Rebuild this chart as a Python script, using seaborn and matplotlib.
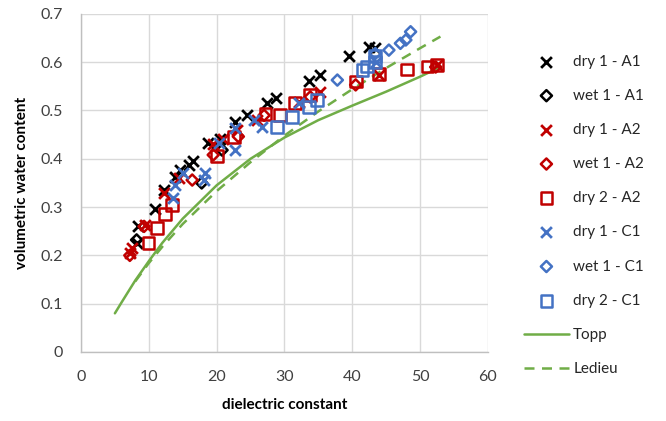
import matplotlib
matplotlib.use("Agg")
import matplotlib.pyplot as plt
import seaborn as sns
import pandas as pd

# dielectric constant (x) / volumetric water content (y)
dry1_a1_x = [8.2, 8.4, 10.9, 12.2, 13.9, 14.6, 15.9, 16.5, 18.8, 20.5, 22.7, 24.5, 27.4, 28.7, 33.6, 35.3, 39.5, 42.5, 43.4]
dry1_a1_y = [0.225, 0.26, 0.295, 0.335, 0.363, 0.377, 0.387, 0.395, 0.432, 0.44, 0.477, 0.49, 0.515, 0.525, 0.562, 0.573, 0.612, 0.632, 0.63]

wet1_a1_x = [8.2, 17.8, 20.8]
wet1_a1_y = [0.232, 0.35, 0.418]

dry1_a2_x = [7.3, 7.5, 9.5, 12.2, 14.5, 19.5, 21.0, 23.0, 26.0, 32.1, 35.3, 43.9, 52.5]
dry1_a2_y = [0.205, 0.215, 0.263, 0.33, 0.36, 0.43, 0.44, 0.46, 0.48, 0.518, 0.539, 0.573, 0.594]

wet1_a2_x = [7.2, 9.3, 16.4, 19.5, 23.2, 27.0, 33.8, 40.5, 52.3]
wet1_a2_y = [0.2, 0.26, 0.356, 0.408, 0.446, 0.49, 0.528, 0.553, 0.59]

dry2_a2_x = [9.95, 11.2, 12.4, 13.4, 20.0, 22.6, 27.2, 29.4, 31.6, 33.8, 40.5, 43.9, 48.1, 51.1, 52.5]
dry2_a2_y = [0.225, 0.257, 0.285, 0.304, 0.405, 0.445, 0.492, 0.49, 0.515, 0.532, 0.56, 0.575, 0.585, 0.591, 0.594]

dry1_c1_x = [13.6, 13.9, 15.0, 18.1, 18.3, 20.3, 22.7, 22.7, 25.5, 26.7, 32.1, 43.5]
dry1_c1_y = [0.318, 0.346, 0.37, 0.356, 0.37, 0.432, 0.418, 0.463, 0.48, 0.466, 0.515, 0.6]

wet1_c1_x = [37.8, 43.4, 45.4, 47.1, 47.9, 48.6]
wet1_c1_y = [0.563, 0.618, 0.625, 0.639, 0.646, 0.663]

dry2_c1_x = [28.9, 31.1, 33.6, 34.8, 41.5, 42.2, 43.4, 43.4]
dry2_c1_y = [0.466, 0.487, 0.508, 0.522, 0.584, 0.591, 0.601, 0.612]

topp_x = [5, 6, 8, 10, 12, 15, 20, 25, 30, 35, 40, 45, 50, 53]
topp_y = [0.080, 0.103, 0.148, 0.188, 0.226, 0.276, 0.345, 0.400, 0.444, 0.480, 0.510, 0.539, 0.570, 0.590]

ledieu_x = [8, 10, 12, 15, 20, 25, 30, 35, 40, 45, 50, 53]
ledieu_y = [0.146, 0.184, 0.218, 0.265, 0.333, 0.393, 0.448, 0.498, 0.544, 0.588, 0.629, 0.653]

BLACK = "#000000"
RED = "#c00000"
BLUE = "#4472c4"
GREEN = "#70ad47"

sns.set_theme(style="white")
plt.rcParams["font.family"] = ["Lato", "DejaVu Sans"]

fig = plt.figure(figsize=(6.66, 4.21), dpi=100)
ax = fig.add_axes([0.1216, 0.164, 0.611, 0.803])

series = [
    ("dry 1 - A1", dry1_a1_x, dry1_a1_y, "x", BLACK, 60),
    ("wet 1 - A1", wet1_a1_x, wet1_a1_y, "D", BLACK, 32),
    ("dry 1 - A2", dry1_a2_x, dry1_a2_y, "x", RED, 60),
    ("wet 1 - A2", wet1_a2_x, wet1_a2_y, "D", RED, 32),
    ("dry 2 - A2", dry2_a2_x, dry2_a2_y, "s", RED, 72),
    ("dry 1 - C1", dry1_c1_x, dry1_c1_y, "x", BLUE, 60),
    ("wet 1 - C1", wet1_c1_x, wet1_c1_y, "D", BLUE, 32),
    ("dry 2 - C1", dry2_c1_x, dry2_c1_y, "s", BLUE, 72),
]

for label, xs, ys, mk, col, size in series:
    df = pd.DataFrame({"x": xs, "y": ys})
    if mk == "x":
        sns.scatterplot(data=df, x="x", y="y", marker="x", color=col, s=size,
                        linewidth=2, ax=ax, label=label, zorder=3)
    else:
        sns.scatterplot(data=df, x="x", y="y", marker=mk, facecolor="none",
                        edgecolor=col, s=size, linewidth=1.8, ax=ax, label=label, zorder=3)

sns.lineplot(x=topp_x, y=topp_y, color=GREEN, linewidth=1.8, ax=ax, label="Topp", sort=False)
sns.lineplot(x=ledieu_x, y=ledieu_y, color=GREEN, linewidth=1.8, linestyle=(0, (4, 3)),
             ax=ax, label="Ledieu", sort=False)

ax.set_xlim(0, 60)
ax.set_ylim(0, 0.7)
ax.set_xticks(range(0, 61, 10))
ax.set_yticks([0, 0.1, 0.2, 0.3, 0.4, 0.5, 0.6, 0.7])
ax.set_yticklabels(["0", "0.1", "0.2", "0.3", "0.4", "0.5", "0.6", "0.7"])
ax.grid(True, color="#d9d9d9", linewidth=1)
ax.set_axisbelow(True)
for side in ["top", "right"]:
    ax.spines[side].set_visible(False)
for side in ["left", "bottom"]:
    ax.spines[side].set_color("#bfbfbf")
    ax.spines[side].set_linewidth(1)
ax.tick_params(axis="both", length=0, labelsize=11.5, colors="#404040", pad=13)
ax.set_xlabel("dielectric constant", fontsize=11, fontweight="bold", color="#000000", labelpad=10)
ax.set_ylabel("volumetric water content", fontsize=11, fontweight="bold", color="#000000", labelpad=8)

handles, labels = ax.get_legend_handles_labels()
ax.legend_.remove()
fig.legend(handles, labels, loc="upper left", bbox_to_anchor=(0.778, 0.885),
           frameon=False, fontsize=11, labelspacing=1.32, handlelength=2.9,
           handletextpad=0.3, borderaxespad=0)

fig.savefig("out.png", dpi=100)
